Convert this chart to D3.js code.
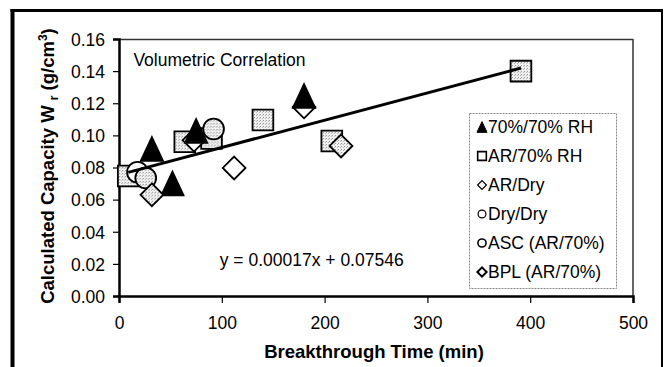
<!DOCTYPE html>
<html>
<head>
<meta charset="utf-8">
<script src="https://cdn.jsdelivr.net/npm/d3@7"></script>
<style>
  html, body { margin: 0; padding: 0; background: #fff; overflow: hidden; }
  svg { display: block; font-family: "Liberation Sans", Arial, sans-serif; }
</style>
</head>
<body>
<div id="chart"></div>
<script>
// 数据：突破时间 (min) 与计算容量 (g/cm3)
const seriesNames = ['70%/70% RH', 'AR/70% RH', 'AR/Dry', 'Dry/Dry', 'ASC (AR/70%)', 'BPL (AR/70%)'];

const rh7070 = [[32, 0.0915], [52, 0.070], [75, 0.1027], [180, 0.1245]];
const ar70 = [[9, 0.0747], [64, 0.096], [90, 0.098], [140, 0.1096], [207, 0.0965], [391, 0.140]];
const arDry = [[73, 0.097], [112, 0.0797], [180, 0.1177]];
const dryDry = [[18, 0.077]];
const asc = [[26, 0.0735], [92, 0.104]];
const bpl = [[32, 0.063], [216, 0.0934]];

const xTicks = [0, 100, 200, 300, 400, 500];
const yTicks = [0, 0.02, 0.04, 0.06, 0.08, 0.10, 0.12, 0.14, 0.16];

const slope = 0.00017;
const intercept = 0.07546;

const width = 664, height = 367;
const margin = { top: 39, right: 31, bottom: 71, left: 119 };
const innerWidth = width - margin.left - margin.right;
const innerHeight = height - margin.top - margin.bottom;
const fontFamily = '"Liberation Sans", Arial, sans-serif';

const svg = d3.select('#chart').append('svg')
  .attr('width', width)
  .attr('height', height);

// 点状填充图案
const defs = svg.append('defs');
const pat = defs.append('pattern')
  .attr('id', 'stipple')
  .attr('patternUnits', 'userSpaceOnUse')
  .attr('width', 3).attr('height', 3);
pat.append('rect').attr('width', 3).attr('height', 3).attr('fill', '#f2f2f2');
pat.append('rect').attr('x', 0).attr('y', 0).attr('width', 1).attr('height', 1).attr('fill', '#8a8a8a');
pat.append('rect').attr('x', 2).attr('y', 1).attr('width', 1).attr('height', 1).attr('fill', '#b0b0b0');

// 外框
svg.append('line').attr('x1', 12.5).attr('x2', 12.5).attr('y1', 9).attr('y2', height)
  .attr('stroke', '#000').attr('stroke-width', 4);
svg.append('line').attr('x1', 10.5).attr('x2', 663).attr('y1', 10.5).attr('y2', 10.5)
  .attr('stroke', '#000').attr('stroke-width', 3);
svg.append('line').attr('x1', 662).attr('x2', 662).attr('y1', 10).attr('y2', height)
  .attr('stroke', '#000').attr('stroke-width', 2);

const g = svg.append('g').attr('transform', `translate(${margin.left},${margin.top})`);

const x = d3.scaleLinear().domain([0, 500]).range([0, innerWidth]);
const y = d3.scaleLinear().domain([0, 0.16]).range([innerHeight, 0]);

// 绘图区边框（上、右）
g.append('line').attr('x1', 0).attr('x2', innerWidth).attr('y1', 0.5).attr('y2', 0.5)
  .attr('stroke', '#333').attr('stroke-width', 1.5);
g.append('line').attr('x1', innerWidth).attr('x2', innerWidth).attr('y1', 0).attr('y2', innerHeight)
  .attr('stroke', '#333').attr('stroke-width', 1.5);

// 坐标轴
const xAxis = g.append('g')
  .attr('transform', `translate(0,${innerHeight})`)
  .call(d3.axisBottom(x).tickValues(xTicks).tickSize(7).tickPadding(14).tickFormat(d3.format('d')));
const yAxis = g.append('g')
  .call(d3.axisLeft(y).tickValues(yTicks).tickSize(6).tickPadding(8).tickFormat(d3.format('.2f')));

[xAxis, yAxis].forEach(ax => {
  ax.attr('font-size', 17.5).attr('font-family', fontFamily);
  ax.select('.domain').attr('stroke', '#000').attr('stroke-width', 2.5);
  ax.selectAll('.tick line').attr('stroke', '#000').attr('stroke-width', 1.2);
  ax.selectAll('.tick text').attr('fill', '#000');
});
yAxis.selectAll('.tick text').attr('dy', '0.36em');

// 标记形状
const tri = {
  draw(ctx, size) {
    const w = Math.sqrt(size) * 1.45, h = Math.sqrt(size) * 1.55;
    ctx.moveTo(0, -h / 2);
    ctx.lineTo(w / 2, h / 2);
    ctx.lineTo(-w / 2, h / 2);
    ctx.closePath();
  }
};
const sym = {
  triangle: d3.symbol().type(tri),
  square: d3.symbol().type(d3.symbolSquare),
  diamond: d3.symbol().type(d3.symbolDiamond2),
  circle: d3.symbol().type(d3.symbolCircle)
};

const series = [
  { name: seriesNames[1], data: ar70, shape: 'square', size: 430, fill: 'url(#stipple)' },
  { name: seriesNames[2], data: arDry, shape: 'diamond', size: 330, fill: '#fff' },
  { name: seriesNames[0], data: rh7070, shape: 'triangle', size: 235, fill: '#000' },
  { name: seriesNames[3], data: dryDry, shape: 'circle', size: 340, fill: '#fff' },
  { name: seriesNames[4], data: asc, shape: 'circle', size: 340, fill: 'url(#stipple)' },
  { name: seriesNames[5], data: bpl, shape: 'diamond', size: 330, fill: 'url(#stipple)' }
];

// 趋势线范围
const allX = [rh7070, ar70, arDry, dryDry, asc, bpl].flat().map(d => d[0]);
const xMin = d3.min(allX), xMax = d3.max(allX);

series.forEach(s => {
  g.append('g').selectAll('path')
    .data(s.data)
    .enter()
    .append('path')
    .attr('transform', d => `translate(${x(d[0])},${y(d[1])})`)
    .attr('d', sym[s.shape].size(s.size)())
    .attr('fill', s.fill)
    .attr('stroke', '#000')
    .attr('stroke-width', 1.8);
});

g.append('line')
  .attr('x1', x(xMin)).attr('y1', y(slope * xMin + intercept))
  .attr('x2', x(xMax)).attr('y2', y(slope * xMax + intercept))
  .attr('stroke', '#000')
  .attr('stroke-width', 3);

// 图内文字
g.append('text')
  .attr('x', x(14)).attr('y', y(0.1435))
  .attr('font-size', 17.5)
  .text('Volumetric Correlation');

g.append('text')
  .attr('x', x(98)).attr('y', y(0.0184))
  .attr('font-size', 17.5)
  .text(`y = ${slope.toFixed(5)}x + ${intercept.toFixed(5)}`);

// 图例
const legendOrder = [
  { name: seriesNames[0], shape: 'triangle', size: 48, fill: '#000', sw: 1 },
  { name: seriesNames[1], shape: 'square', size: 75, fill: '#fff', sw: 1.6 },
  { name: seriesNames[2], shape: 'diamond', size: 50, fill: '#fff', sw: 1.2 },
  { name: seriesNames[3], shape: 'circle', size: 48, fill: '#fff', sw: 1.2 },
  { name: seriesNames[4], shape: 'circle', size: 52, fill: '#fff', sw: 1.6 },
  { name: seriesNames[5], shape: 'diamond', size: 55, fill: '#fff', sw: 2 }
];

const legend = svg.append('g').attr('transform', 'translate(469,113)');
legend.append('rect')
  .attr('x', 0.5).attr('y', 0.5)
  .attr('width', 147).attr('height', 175)
  .attr('fill', '#fff')
  .attr('stroke', '#888')
  .attr('stroke-width', 1)
  .attr('stroke-dasharray', '2,1');

const items = legend.selectAll('.legend-item')
  .data(legendOrder)
  .enter()
  .append('g')
  .attr('class', 'legend-item')
  .attr('transform', (d, i) => `translate(0,${20 + i * 29})`);

items.append('path')
  .attr('transform', 'translate(13,-6)')
  .attr('d', d => sym[d.shape].size(d.size)())
  .attr('fill', d => d.fill)
  .attr('stroke', '#000')
  .attr('stroke-width', d => d.sw);

items.append('text')
  .attr('x', 19)
  .attr('y', 0)
  .attr('font-size', 17.5)
  .text(d => d.name);

// 轴标题
svg.append('text')
  .attr('x', margin.left + innerWidth / 2 - 2)
  .attr('y', 358)
  .attr('text-anchor', 'middle')
  .attr('font-size', 18.5)
  .attr('font-weight', 'bold')
  .text('Breakthrough Time (min)');

const yTitle = svg.append('text')
  .attr('transform', 'translate(54,166) rotate(-90)')
  .attr('text-anchor', 'middle')
  .attr('font-size', 18.5)
  .attr('font-weight', 'bold');
yTitle.append('tspan').text('Calculated Capacity W ');
yTitle.append('tspan').attr('dy', 4).attr('font-size', 12).text('r');
yTitle.append('tspan').attr('dy', -4).text(' (g/cm');
yTitle.append('tspan').attr('dy', -7).attr('font-size', 12).text('3');
yTitle.append('tspan').attr('dy', 7).text(')');
</script>
</body>
</html>
